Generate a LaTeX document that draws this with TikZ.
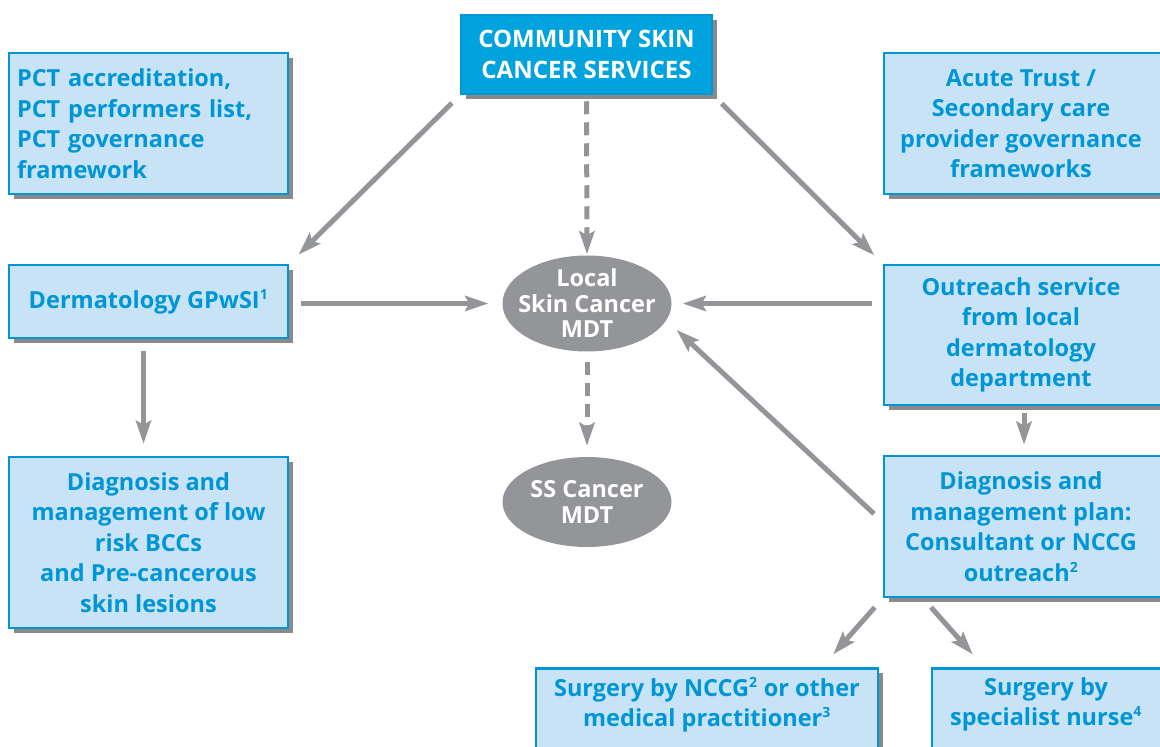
\documentclass[tikz,border=0pt]{standalone}
\usepackage{fontspec}
\setmainfont{Open Sans}
\usetikzlibrary{arrows.meta,shadows,shapes.geometric}
\definecolor{bluetxt}{RGB}{0,150,214}
\definecolor{boxfill}{RGB}{199,227,245}
\definecolor{topfill}{RGB}{0,163,221}
\definecolor{arrgray}{RGB}{147,149,152}
\definecolor{shadowgray}{RGB}{125,125,128}
\newcommand{\sps}[1]{\textsuperscript{\fontsize{14}{14}\selectfont #1}}
\tikzset{
  box/.style={draw=bluetxt, line width=2.5pt, fill=boxfill, text=bluetxt,
    font=\bfseries\fontsize{23.5}{30.5}\selectfont, align=center, inner sep=0pt,
    drop shadow={shadow xshift=5pt, shadow yshift=-5pt, fill=shadowgray, opacity=0.9}},
  topbox/.style={box, fill=topfill, text=white, font=\bfseries\fontsize{24}{30.5}\selectfont},
  mdt/.style={ellipse, fill=arrgray, text=white, align=center,
    font=\bfseries\fontsize{23.5}{25.5}\selectfont},
  boxtext/.style={text=bluetxt, font=\bfseries\fontsize{23.5}{30.5}\selectfont, align=center, inner sep=0pt},
  arr/.style={draw=arrgray, line width=5pt, -{Stealth[length=23pt,width=15pt,inset=4pt]}},
  darr/.style={arr, dash pattern=on 13pt off 8pt}
}
\begin{document}
\begin{tikzpicture}[x=1pt,y=-1pt]
\useasboundingbox (0,0) rectangle (1160,747);
\clip (0,0) rectangle (1160,747);
% boxes
\node[topbox, minimum width=251pt, minimum height=79pt] (top) at (586.5,54.5) {COMMUNITY SKIN\\CANCER SERVICES};
\node[box, minimum width=279pt, minimum height=141pt, align=left, text width=263pt] (pct) at (148.5,123.5) {PCT accreditation,\\PCT performers list,\\PCT governance\\framework};
\node[box, minimum width=284pt, minimum height=141pt] (acute) at (1026,123.5) {\hspace*{-10pt}Acute Trust /\\\hspace*{-10pt}Secondary care\\\hspace*{-10pt}provider governance\\\hspace*{-10pt}frameworks};
\node[box, minimum width=279pt, minimum height=73pt] (derm) at (148.5,301.5) {Dermatology GPwSI\sps{1}};
\node[box, minimum width=284pt, minimum height=140pt] (outreach) at (1026,335) {\hspace*{-10pt}Outreach service\\\hspace*{-10pt}from local\\\hspace*{-10pt}dermatology\\\hspace*{-10pt}department};
\node[box, minimum width=279pt, minimum height=171pt] (diagL) at (148.5,542.5) {Diagnosis and\\management of low\\risk BCCs\\and Pre-cancerous\\skin lesions};
\node[box, minimum width=284pt, minimum height=141pt] (diagR) at (1026,526.5) {\hspace*{-10pt}Diagnosis and\\\hspace*{-10pt}management plan:\\\hspace*{-10pt}Consultant or NCCG\\\hspace*{-10pt}outreach\sps{2}};
\node[box, minimum width=342pt, minimum height=110pt, anchor=north] (surgN) at (707,667) {};
\node[boxtext, anchor=north] (surgNt) at (707,677) {Surgery by NCCG\sps{2} or other\\medical practitioner\sps{3}};
\node[box, minimum width=250pt, minimum height=110pt, anchor=north] (nurse) at (1057,667) {};
\node[boxtext, anchor=north] (nurset) at (1046,677) {Surgery by\\specialist nurse\sps{4}};
% ellipses
\node[mdt, inner xsep=-12pt, inner ysep=-4pt, minimum width=169pt, minimum height=96pt] (local) at (587,303.5) {Local\\Skin Cancer\\MDT};
\node[mdt, inner xsep=-2pt, inner ysep=0pt, minimum width=169pt, minimum height=90pt] (ss) at (587,502) {SS Cancer\\MDT};
% connectors
\draw[darr, shorten <=6pt, shorten >=1pt] (top.south) -- (local.north);
\draw[darr, shorten <=10pt, shorten >=11pt] (local.south) -- (ss.north);
\draw[arr, shorten <=11pt, shorten >=13pt] (top.south west) -- (derm.north east);
\draw[arr, shorten <=12pt, shorten >=12pt] (top.south east) -- (outreach.north west);
\draw[arr, shorten <=12pt, shorten >=14pt] (derm.east |- local.west) -- (local.west);
\draw[arr, shorten <=11pt, shorten >=11pt] (outreach.west |- local.east) -- (local.east);
\draw[arr, shorten <=12pt, shorten >=12pt] ([xshift=-5pt]derm.south) -- ([xshift=-5pt]diagL.north);
\draw[arr, shorten <=7pt, shorten >=10pt] ([xshift=-2pt]outreach.south) -- ([xshift=-2pt]diagR.north);
\draw[arr, shorten <=12pt, shorten >=14pt] ([yshift=4.5pt]diagR.west) -- (local.-12);
\draw[arr, shorten <=12pt, shorten >=17pt] (diagR.south west) -- ([xshift=115pt]surgN.north);
\draw[arr, shorten <=12pt, shorten >=17pt] ([xshift=-103pt]diagR.south) -- ([xshift=-73pt]nurse.north);
\end{tikzpicture}
\end{document}
